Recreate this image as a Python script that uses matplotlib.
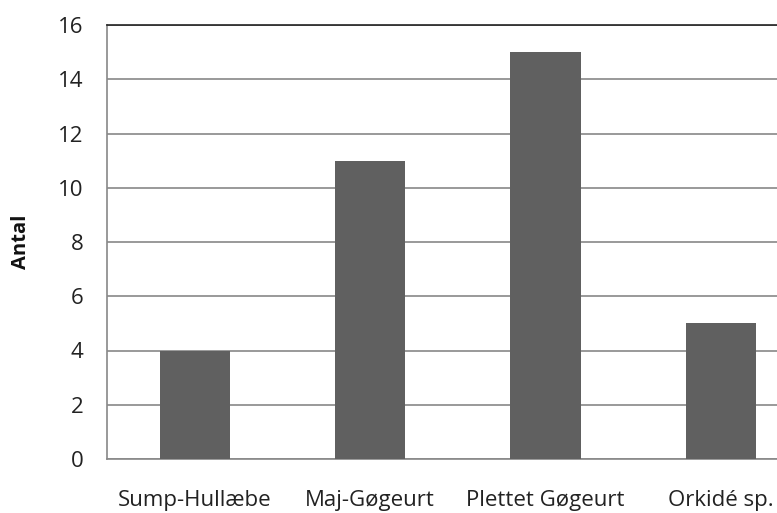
import matplotlib
matplotlib.use("Agg")
import matplotlib.pyplot as plt

categories = ["Sump-Hullæbe", "Maj-Gøgeurt", "Plettet Gøgeurt", "Orkidé sp."]
values = [4, 11, 15, 5]
yticks = [0, 2, 4, 6, 8, 10, 12, 14, 16]

plt.rcParams['font.family'] = ['Open Sans', 'DejaVu Sans']

fig = plt.figure(figsize=(7.77, 5.13), dpi=100)
ax = fig.add_axes([107/777, 54/513, 701.5/777, 434/513])
ax.bar(range(len(categories)), values, width=0.4, color="#606060", zorder=3)
ax.set_xlim(-0.5, len(categories) - 0.5)
ax.set_ylim(0, 16)
ax.set_yticks(yticks)
ax.set_xticks(range(len(categories)))
ax.set_xticklabels(categories, fontsize=16, color="#222222")
ax.tick_params(axis='y', labelsize=16, length=0, pad=17, labelcolor="#222222")
ax.tick_params(axis='x', length=0, pad=22)
ax.yaxis.grid(True, color="#888888", linewidth=1.2, zorder=0)
ax.set_axisbelow(True)
for s in ["left", "bottom"]:
    ax.spines[s].set_color("#888888")
    ax.spines[s].set_linewidth(1.2)
ax.spines["top"].set_color("#222222")
ax.spines["top"].set_linewidth(1.2)
ax.spines["right"].set_visible(False)
ax.set_ylabel("Antal", fontsize=14.5, fontweight="bold", labelpad=19, color="#111111")
fig.savefig("out.png", dpi=100)
